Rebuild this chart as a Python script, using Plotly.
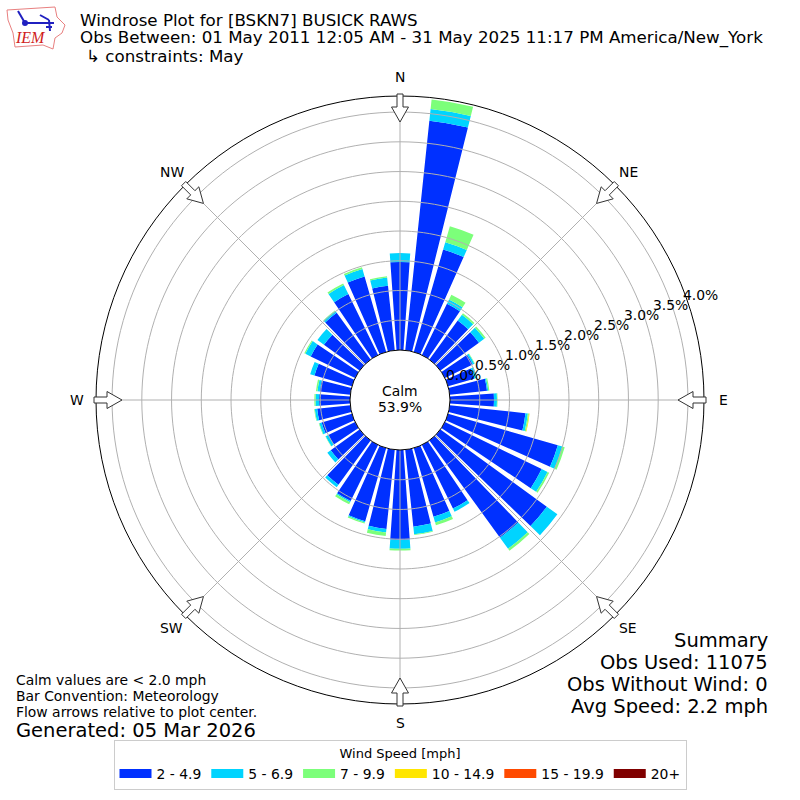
import numpy as np
import plotly.graph_objects as go

# wind rose, percent of all obs per 10 degree sector
directions = list(range(0, 360, 10))
labels = ["2 - 4.9", "5 - 6.9", "7 - 9.9", "10 - 14.9", "15 - 19.9", "20+"]
colors = ["#0030ff", "#00d4ff", "#7cff7a", "#ffe600", "#ff4a00", "#800000"]

speed_2_5 = [1.48, 3.88, 1.79, 0.96, 0.81, 0.80, 0.52, 0.46, 0.63, 0.74, 1.28, 1.92,
             1.81, 2.21, 2.02, 1.19, 1.20, 1.30, 1.51, 1.34, 1.28, 1.05, 0.92, 0.60,
             0.50, 0.53, 0.56, 0.52, 0.515, 0.655, 0.83, 0.74, 0.97, 1.14, 1.32, 1.09]
speed_5_7 = [0.15, 0.20, 0.13, 0.08, 0.12, 0.11, 0.03, 0.05, 0.02, 0.05, 0.04, 0.08,
             0.11, 0.22, 0.23, 0.06, 0.10, 0.13, 0.15, 0.06, 0.02, 0.02, 0.05, 0.07,
             0.05, 0.04, 0.04, 0.06, 0.04, 0.075, 0.10, 0.135, 0.04, 0.17, 0.13, 0.14]
speed_7_10 = [0.0, 0.16, 0.28, 0.09, 0.03, 0.03, 0.01, 0.0, 0.02, 0.01, 0.02, 0.04,
              0.03, 0.0, 0.04, 0.0, 0.05, 0.01, 0.03, 0.06, 0.02, 0.04, 0.0, 0.0,
              0.005, 0.01, 0.01, 0.02, 0.025, 0.0, 0.02, 0.0, 0.01, 0.03, 0.03, 0.02]
speed_10_15 = [0.0] * 10 + [0.01] + [0.0] * 25
speed_15_20 = [0.0] * 36
speed_20_up = [0.0] * 36
all_speeds = [speed_2_5, speed_5_7, speed_7_10, speed_10_15, speed_15_20, speed_20_up]

r_ticks = [0.0, 0.5, 1.0, 1.5, 2.0, 2.5, 3.0, 3.5, 4.0]
r_max = 4.27
compass = ["N", "NE", "E", "SE", "S", "SW", "W", "NW"]
compass_deg = [0, 45, 90, 135, 180, 225, 270, 315]

SIZE = 800
CX, CY = 400, 400
OUTER = 304
HOLE = 50


def px(x):
    return x / SIZE


def py(y):
    return 1 - y / SIZE


def path_str(points):
    return "M" + " L".join(f"{px(x):.5f},{py(y):.5f}" for x, y in points) + " Z"


def arrow_path(deg):
    # block arrow pointing at the plot center
    a = np.radians(deg)
    ux, uy = np.sin(a), -np.cos(a)
    vx, vy = np.cos(a), np.sin(a)
    outline = [(306, 3), (293, 3), (293, 8.5), (278, 0), (293, -8.5), (293, -3), (306, -3)]
    return path_str([(CX + ux * r + vx * s, CY + uy * r + vy * s) for r, s in outline])


fig = go.Figure()

for name, color, values in zip(labels, colors, all_speeds):
    fig.add_trace(go.Barpolar(r=values, theta=directions, width=8, name=name,
                              marker=dict(color=color, line=dict(width=0)),
                              showlegend=False, hoverinfo="skip"))

# grid goes on top of the bars here, so it has to be traces
circle = np.arange(0, 361, 2)
for t in r_ticks[1:]:
    fig.add_trace(go.Scatterpolar(r=[t] * len(circle), theta=circle, mode="lines",
                                  line=dict(color="#b0b0b0", width=1),
                                  showlegend=False, hoverinfo="skip"))
for d in compass_deg:
    fig.add_trace(go.Scatterpolar(r=[0, r_max], theta=[d, d], mode="lines",
                                  line=dict(color="#b0b0b0", width=1),
                                  showlegend=False, hoverinfo="skip"))

# legend swatches are wider than bar legends allow
for name, color in zip(labels, colors):
    fig.add_trace(go.Scatterpolar(r=[None], theta=[None], mode="lines", name=name,
                                  line=dict(color=color, width=9)))

shapes = []
for d in compass_deg:
    shapes.append(dict(type="path", path=arrow_path(d), xref="paper", yref="paper",
                       fillcolor="white", line=dict(color="#333333", width=1), layer="above"))

# IEM logo
iowa = [(7, 10), (55, 7), (57, 17), (65, 25), (62, 33), (55, 38), (53, 49),
        (43, 45), (15, 47), (13, 33), (8, 20)]
shapes.append(dict(type="path", path=path_str(iowa), xref="paper", yref="paper",
                   line=dict(color="#e88080", width=1)))
logo_lines = [[(25, 23), (54, 23)], [(18, 11), (25, 23)], [(40, 15), (49, 20)],
              [(49, 20), (50, 31)], [(46, 27), (52, 27)]]
for seg in logo_lines:
    shapes.append(dict(type="line", x0=px(seg[0][0]), y0=py(seg[0][1]),
                       x1=px(seg[1][0]), y1=py(seg[1][1]), xref="paper", yref="paper",
                       line=dict(color="#2020c0", width=2)))
shapes.append(dict(type="circle", x0=px(22), y0=py(20), x1=px(28), y1=py(26),
                   xref="paper", yref="paper", fillcolor="#2020c0", line=dict(width=0)))

annotations = []


def add_text(text, x, y, size, anchor="left", color="black", family="DejaVu Sans"):
    annotations.append(dict(text=text, x=px(x), y=py(y), xref="paper", yref="paper",
                            xanchor=anchor, yanchor="middle", showarrow=False,
                            borderpad=0, borderwidth=0,
                            font=dict(family=family, size=size, color=color)))


add_text("Windrose Plot for [BSKN7] BUSICK RAWS", 80, 20, 16.7)
add_text("Obs Between: 01 May 2011 12:05 AM - 31 May 2025 11:17 PM America/New_York", 80, 37, 16.7)
add_text("↳ constraints: May", 86, 56, 16.7)
add_text("<i>IEM</i>", 30, 38, 16, "center", "#d02020", "Liberation Serif")

add_text("Calm", 400, 391, 13.9, "center")
add_text("53.9%", 400, 407, 13.9, "center")

for t in r_ticks:
    add_text(f"{t:.1f}%", 463 + t * 59.4, 375 - t * 20, 13.9, "center")

for name, d in zip(compass, compass_deg):
    a = np.radians(d)
    add_text(name, CX + 323 * np.sin(a), CY - 323 * np.cos(a), 13.9, "center")

add_text("Summary", 768, 640, 19.5, "right")
add_text("Obs Used: 11075", 768, 662, 19.5, "right")
add_text("Obs Without Wind: 0", 768, 684, 19.5, "right")
add_text("Avg Speed: 2.2 mph", 768, 706, 19.5, "right")

add_text("Calm values are &lt; 2.0 mph", 16, 680, 13.9)
add_text("Bar Convention: Meteorology", 16, 696, 13.9)
add_text("Flow arrows relative to plot center.", 16, 712, 13.9)
add_text("Generated: 05 Mar 2026", 16, 730, 19.5)

fig.update_layout(
    width=SIZE, height=SIZE,
    margin=dict(l=0, r=0, t=0, b=0),
    paper_bgcolor="white",
    font=dict(family="DejaVu Sans", color="black", size=13),
    shapes=shapes,
    annotations=annotations,
    polar=dict(
        domain=dict(x=[(CX - OUTER) / SIZE, (CX + OUTER) / SIZE],
                    y=[(CY - OUTER) / SIZE, (CY + OUTER) / SIZE]),
        hole=HOLE / OUTER,
        barmode="stack",
        bgcolor="white",
        radialaxis=dict(range=[0, r_max], showgrid=False, showline=False, ticks="",
                        showticklabels=False),
        angularaxis=dict(direction="clockwise", rotation=90, tickmode="array",
                         tickvals=compass_deg, showticklabels=False, showgrid=False,
                         showline=True, linecolor="black", linewidth=1, ticks=""),
    ),
    legend=dict(orientation="h", x=0.5, xanchor="center", y=py(740), yanchor="top",
                bordercolor="#cccccc", borderwidth=1, bgcolor="white",
                title=dict(text="Wind Speed [mph]", side="top center",
                           font=dict(size=13)),
                font=dict(size=13.9), itemwidth=32),
)

fig.write_html("out.html", config=dict(displayModeBar=False),
               post_script="document.body.style.margin='0';")
